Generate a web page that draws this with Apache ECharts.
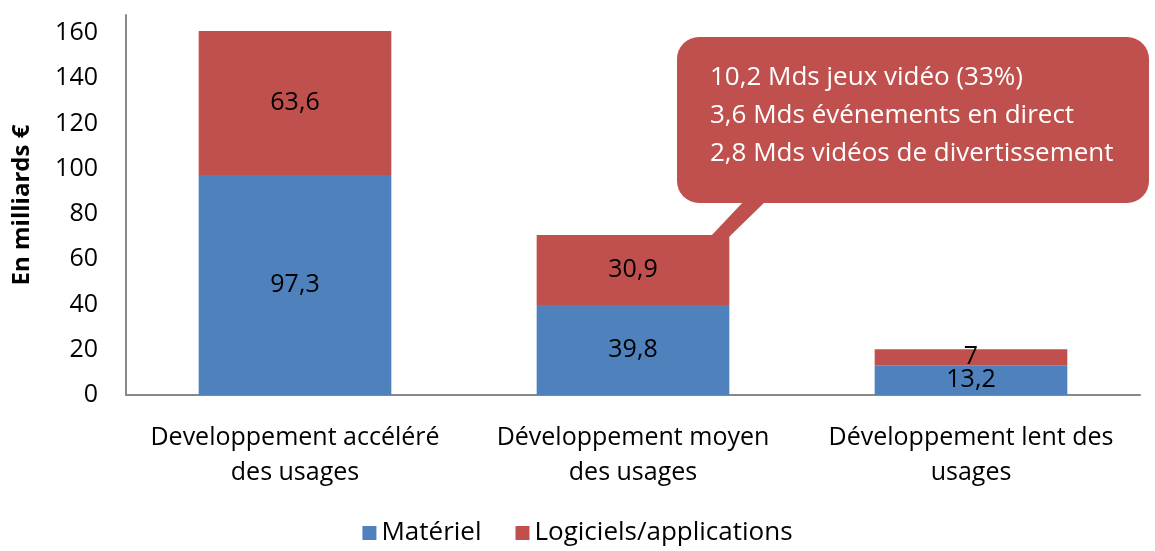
<!DOCTYPE html>
<html lang="fr">
<head>
<meta charset="UTF-8">
<title>Usages</title>
<script src="https://cdn.jsdelivr.net/npm/echarts@6/dist/echarts.min.js"></script>
<style>
  html, body { margin: 0; padding: 0; background: #fff; }
  #main { width: 1155px; height: 551px; }
</style>
</head>
<body>
<div id="main"></div>
<script>
// données
var categories = ['Developpement accéléré\ndes usages', 'Développement moyen\ndes usages', 'Développement lent des\nusages'];
var materiel = [97.3, 39.8, 13.2];
var logiciels = [63.6, 30.9, 7];
var yTicks = [0, 20, 40, 60, 80, 100, 120, 140, 160];
var calloutLines = ['10,2 Mds jeux vidéo (33%)', '3,6 Mds événements en direct', '2,8 Mds vidéos de divertissement'];

var FONT = 'Open Sans';
var chart = echarts.init(document.getElementById('main'));

function fmt(p) {
    return String(p.value).replace('.', ',');
}

chart.setOption({
    animation: false,
    textStyle: { fontFamily: FONT },
    grid: { left: 126, right: 15, top: 15, bottom: 156 },
    legend: {
        bottom: 0,
        left: 'center',
        itemWidth: 14,
        itemHeight: 14,
        itemGap: 34,
        icon: 'rect',
        textStyle: { fontSize: 26, color: '#000', fontFamily: FONT },
        data: ['Matériel', 'Logiciels/applications']
    },
    xAxis: {
        type: 'category',
        data: categories,
        axisLine: { lineStyle: { color: '#888', width: 2 } },
        axisTick: { show: false },
        axisLabel: { color: '#000', fontSize: 25, lineHeight: 35, margin: 25, interval: 0 }
    },
    yAxis: {
        type: 'value',
        min: 0,
        max: 168,
        interval: 20,
        name: 'En milliards €',
        nameLocation: 'middle',
        nameGap: 92,
        nameTextStyle: { fontSize: 24, fontWeight: 'bold', color: '#000' },
        axisLine: { show: true, lineStyle: { color: '#888', width: 2 } },
        axisTick: { show: false },
        splitLine: { show: false },
        axisLabel: {
            color: '#000', fontSize: 25, margin: 28,
            showMaxLabel: false,
            formatter: function (v) { return yTicks.indexOf(v) >= 0 ? v : ''; }
        }
    },
    series: [
        {
            name: 'Matériel',
            type: 'bar',
            stack: 'total',
            barCategoryGap: '43%',
            data: materiel,
            itemStyle: { color: '#4F81BD' },
            label: { show: true, position: 'inside', color: '#000', fontSize: 25, formatter: fmt }
        },
        {
            name: 'Logiciels/applications',
            type: 'bar',
            stack: 'total',
            data: logiciels,
            itemStyle: { color: '#C0504D' },
            label: { show: true, position: 'inside', color: '#000', fontSize: 25, formatter: fmt }
        }
    ],
    graphic: [
        {
            type: 'polygon',
            shape: { points: [[745, 200], [710, 237], [729, 237], [767, 200]] },
            style: { fill: '#C0504D' },
            z: 100
        },
        {
            type: 'rect',
            shape: { x: 677, y: 37, width: 472, height: 166, r: 22 },
            style: { fill: '#C0504D' },
            z: 100
        },
        {
            type: 'text',
            x: 710,
            y: 59,
            style: {
                text: calloutLines.join('\n'),
                fill: '#fff',
                font: '26px "' + FONT + '"',
                lineHeight: 38
            },
            z: 101
        }
    ]
});
</script>
</body>
</html>
